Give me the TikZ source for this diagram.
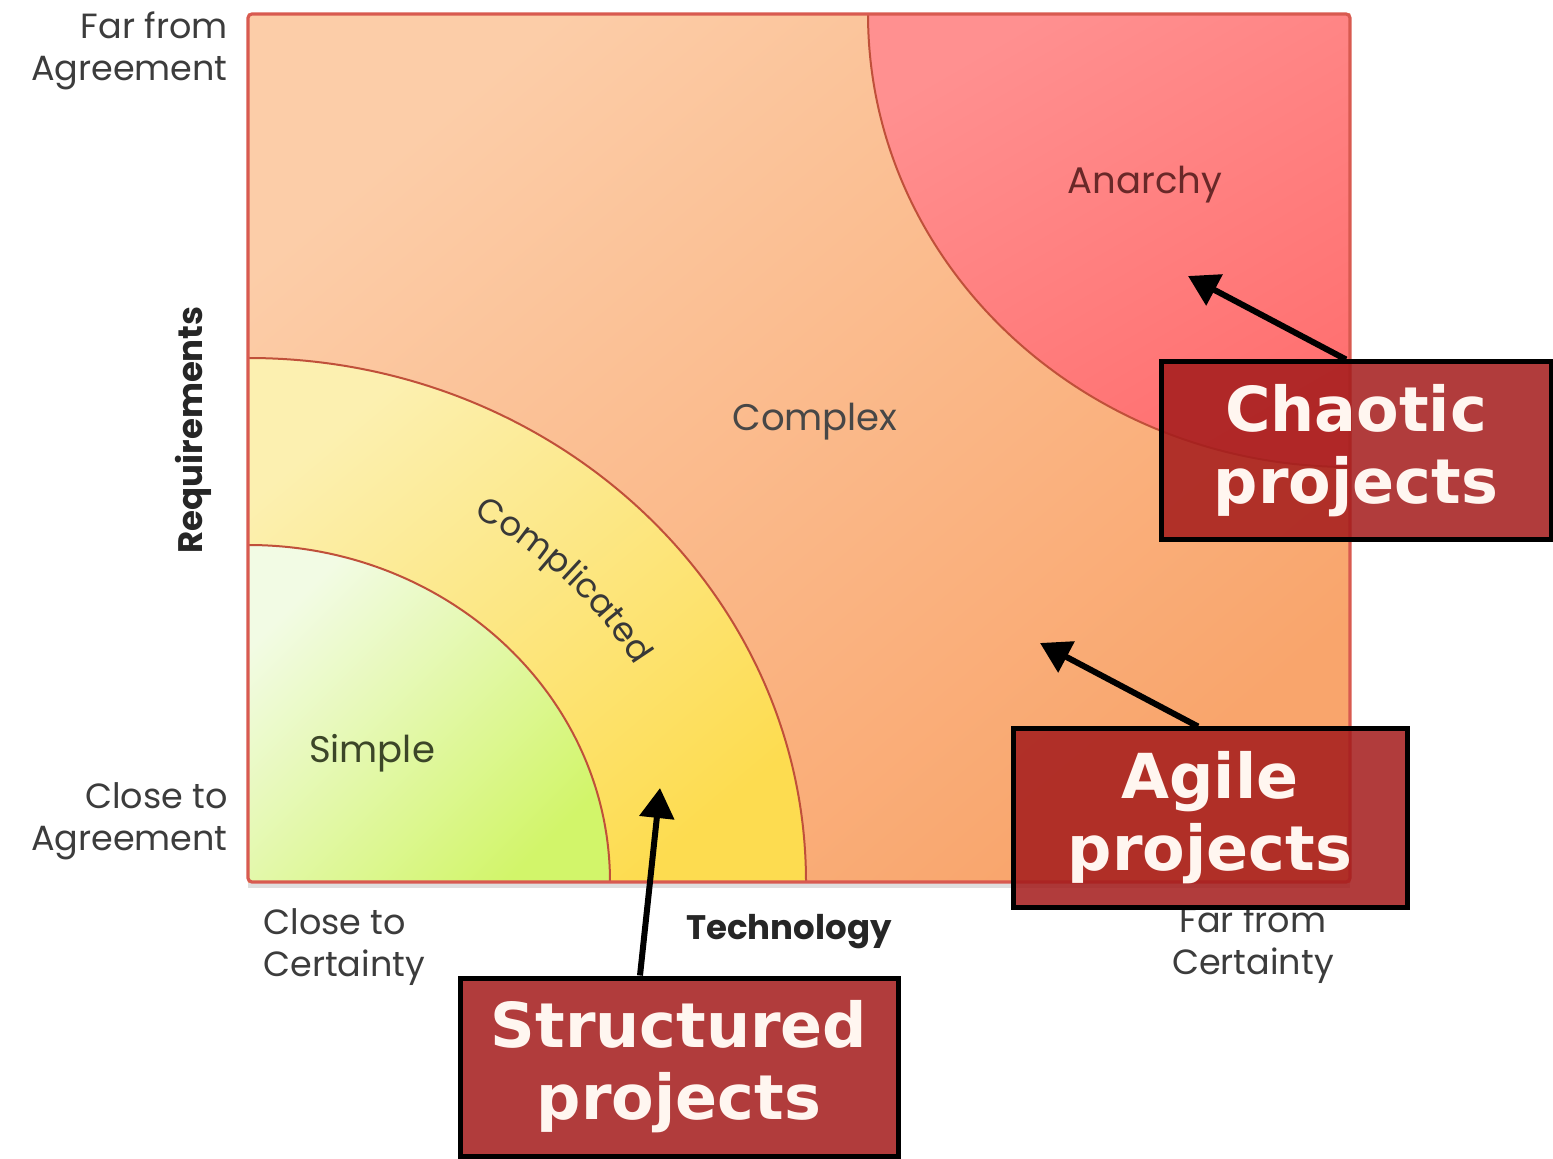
\documentclass[tikz,border=0pt]{standalone}
\usepackage{fontspec}
\setmainfont{Poppins}
\newfontfamily\boxfont{DejaVu Sans}
\usetikzlibrary{arrows.meta,decorations.text,shadows}
\definecolor{bgA}{HTML}{FCCDA8}
\definecolor{bgB}{HTML}{F9A56C}
\definecolor{anA}{HTML}{FF9090}
\definecolor{anB}{HTML}{FF7070}
\definecolor{coA}{HTML}{FCF0B0}
\definecolor{coB}{HTML}{FDDC50}
\definecolor{siA}{HTML}{F2FBE4}
\definecolor{siB}{HTML}{D2F56A}
\definecolor{edge}{HTML}{C0503A}
\definecolor{frame}{HTML}{D85A50}
\definecolor{boxred}{HTML}{A41C1C}
\definecolor{lbl}{HTML}{3C3C3C}
\begin{document}
\begin{tikzpicture}[x=0.5pt,y=0.5pt,
  axislbl/.style={font=\fontsize{17.5}{21}\selectfont, text=lbl, inner sep=0pt},
  axistitle/.style={font=\bfseries\fontsize{17}{20}\selectfont, text=black!85, inner sep=0pt},
  zonelbl/.style={font=\fontsize{18.5}{22}\selectfont, text=black!72, inner sep=0pt},
  region/.style={draw=edge, line width=1pt},
  projbox/.style={draw=black, line width=2.5pt, fill=boxred, fill opacity=0.86, text opacity=1,
    text={rgb,255:red,255;green,246;blue,240}, font=\boxfont\bfseries\fontsize{31}{36}\selectfont,
    align=center, inner sep=0pt, minimum height=89pt},
  pointer/.style={line width=3pt, draw=black, -{Triangle[length=15pt,width=17pt]}}
]
\useasboundingbox (0,0) rectangle (1553,1158);
% frame with shadow
\fill[white, drop shadow={opacity=0.25, shadow xshift=0pt, shadow yshift=-3pt}] (248,276) rectangle (1350,1144);
\shade[top color=bgA, bottom color=bgB, shading angle=40] (248,276) rectangle (1350,1144);
% anarchy
\shade[top color=anA, bottom color=anB, shading angle=30] (868,1144) arc[start angle=180, end angle=270, x radius=482, y radius=453] -- (1350,1144) -- cycle;
\draw[region] (868,1144) arc[start angle=180, end angle=270, x radius=482, y radius=453];
% complicated
\shade[top color=coA, bottom color=coB, shading angle=40] (248,276) -- (806,276) arc[start angle=0, end angle=90, x radius=558, y radius=524] -- cycle;
\draw[region] (806,276) arc[start angle=0, end angle=90, x radius=558, y radius=524];
% simple
\shade[top color=siA, bottom color=siB, shading angle=45] (248,276) -- (610,276) arc[start angle=0, end angle=90, x radius=362, y radius=337] -- cycle;
\draw[region] (610,276) arc[start angle=0, end angle=90, x radius=362, y radius=337];
% frame border
\draw[frame, line width=1.6pt, rounded corners=2pt] (248,276) rectangle (1350,1144);
% zone labels
\node[zonelbl] (complex) at (815,736) {Complex};
\node[zonelbl, text={rgb,255:red,105;green,40;blue,40}] (anarchy) at (1145,973) {Anarchy};
\node[zonelbl, text={rgb,255:red,60;green,70;blue,40}] (simple) at (372,405) {Simple};
\path[decorate, decoration={text along path, text align=center,
  text={|\fontsize{17}{20}\selectfont\color{black!78}|Complicated}}]
  (248,276) ++(74:450 and 424) arc[start angle=74, end angle=16, x radius=450, y radius=424];
% axis labels
\node[axislbl, anchor=east, align=right] (faragr) at (228,1107) {Far from\\Agreement};
\node[axislbl, anchor=east, align=right] (closeagr) at (228,337) {Close to\\Agreement};
\node[axislbl, anchor=west, align=left] (closecert) at (263,211) {Close to\\Certainty};
\node[axislbl, align=center] (farcert) at (1253,213) {Far from\\Certainty};
\node[axistitle, rotate=90] (req) at (193,728) {Requirements};
\node[axistitle] (tech) at (789,226) {Technology};
% project boxes
\node[projbox, minimum width=195pt] (chaotic) at (1356,707) {Chaotic\\projects};
\node[projbox, minimum width=197pt] (agile) at (1210,340) {Agile\\projects};
\node[projbox, minimum width=219pt] (structured) at (679,91) {Structured\\projects};
% arrow tips
\coordinate (chaotictip) at (1188,882);
\coordinate (agiletip) at (1040,515);
\coordinate (structtip) at (660,370);
\draw[pointer] ([xshift=-5pt]chaotic.north) -- (chaotictip);
\draw[pointer] ([xshift=-6pt]agile.north) -- (agiletip);
\draw[pointer] ([xshift=-19.5pt]structured.north) -- (structtip);
\end{tikzpicture}
\end{document}
